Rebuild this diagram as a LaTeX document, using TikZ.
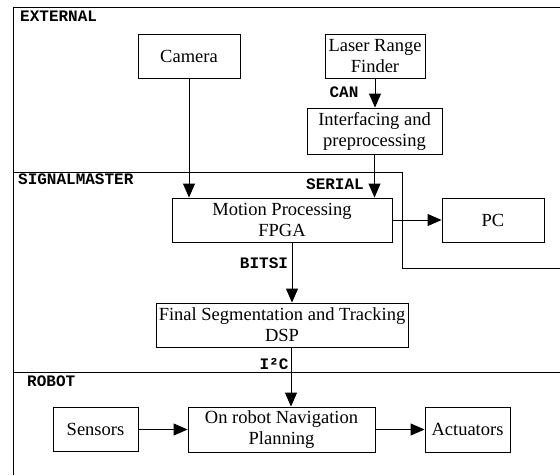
\documentclass[tikz,border=0pt]{standalone}
\usepackage{fontspec}
\setmainfont{Liberation Serif}
\newfontfamily\tagfont{Liberation Mono}
\usetikzlibrary{arrows.meta}

\begin{document}
\begin{tikzpicture}[x=1pt,y=-1pt,
  box/.style={draw, line width=0.9pt, inner sep=0pt, align=center,
    font=\fontsize{18.5}{21}\selectfont},
  tag/.style={inner sep=0pt, font=\tagfont\bfseries\fontsize{16}{16}\selectfont},
  arr/.style={line width=0.9pt, -{Triangle[length=14pt,width=12pt]}}]

  \useasboundingbox (0,0) rectangle (560,475);

  % regions
  \draw[line width=0.9pt] (560,7) -- (13,7) -- (13,475);
  \draw[line width=0.9pt] (13,172) -- (402,172) -- (402,268) -- (560,268);
  \draw[line width=0.9pt] (13,372) -- (560,372);

  \node[tag, anchor=west] (ext) at (20,16) {EXTERNAL};
  \node[tag, anchor=west] (sigm) at (18,179) {SIGNALMASTER};
  \node[tag, anchor=west] (rob) at (27,381) {ROBOT};

  % blocks
  \node[box, minimum width=102pt, minimum height=44pt] (cam) at (189,56) {Camera};
  \node[box, minimum width=100pt, minimum height=44pt] (lrf) at (375,56) {Laser Range\\Finder};
  \node[box, minimum width=135pt, minimum height=46pt] (intf) at (374.5,131) {Interfacing and\\preprocessing};
  \node[box, minimum width=220pt, minimum height=44pt] (mot) at (282,220) {Motion Processing\\FPGA};
  \node[box, minimum width=102pt, minimum height=44pt] (pc) at (493,220) {PC};
  \node[box, minimum width=252pt, minimum height=44pt] (fin) at (282,325) {Final Segmentation and Tracking\\DSP};
  \node[box, minimum width=85pt, minimum height=44pt] (sens) at (95.5,429.5) {Sensors};
  \node[box, minimum width=187pt, minimum height=45pt] (nav) at (281.5,429.5) {On robot Navigation\\Planning};
  \node[box, minimum width=85pt, minimum height=45pt] (act) at (467.5,429.5) {Actuators};

  % links
  \draw[arr] (cam.south) -- (cam.south |- mot.north);
  \draw[arr] (lrf.south) -- (lrf.south |- intf.north);
  \draw[arr] (intf.south) -- (intf.south |- mot.north);
  \draw[arr] (mot.east) -- (pc.west);
  \draw[arr] ([xshift=10pt]mot.south) -- ([xshift=10pt]mot.south |- fin.north);
  \draw[arr] ([xshift=9pt]fin.south) -- ([xshift=9pt]fin.south |- nav.north);
  \draw[arr] (sens.east) -- (nav.west);
  \draw[arr] (nav.east) -- (act.west);

  \node[tag] (can) at (344,92) {CAN};
  \node[tag] (ser) at (335,184) {SERIAL};
  \node[tag] (bitsi) at (264,263) {BITSI};
  \node[tag] (iic) at (274,364) {I²C};

\end{tikzpicture}
\end{document}
